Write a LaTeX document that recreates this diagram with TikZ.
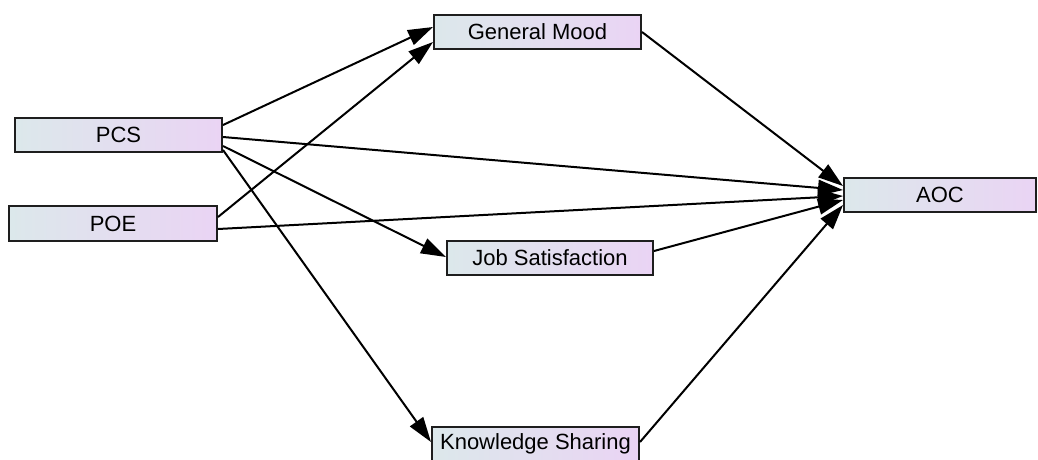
\documentclass[tikz,border=0pt]{standalone}
\usepackage{fontspec}
\setmainfont{Liberation Sans}
\usetikzlibrary{arrows.meta}
\definecolor{boxL}{RGB}{220,232,235}
\definecolor{boxR}{RGB}{234,212,244}
\definecolor{boxB}{RGB}{30,30,30}
\tikzset{
  varbox/.style={draw=boxB, line width=2pt, left color=boxL, right color=boxR,
    minimum height=34pt, inner sep=0pt, font=\fontsize{22}{25}\selectfont},
  path/.style={line width=2pt, -{Triangle[length=25pt,width=16pt]}}
}
\begin{document}
\begin{tikzpicture}[x=1pt,y=-1pt]
\useasboundingbox (0,0) rectangle (1038,459);
\node[varbox, minimum width=207pt] (PCS) at (118.5,135) {PCS};
\node[varbox, minimum width=208pt, minimum height=35pt] (POE) at (113,223.5) {POE};
\node[varbox, minimum width=207pt] (GM) at (537.5,32) {General Mood};
\node[varbox, minimum width=192pt] (AOC) at (940,195) {AOC};
\node[varbox, minimum width=206pt] (JS) at (550,258) {Job Satisfaction};
\node[varbox, minimum width=207pt] (KS) at (535.5,444) {Knowledge Sharing};

\draw[path] ([yshift=10pt]PCS.east) -- ([yshift=5pt]GM.west);
\draw[path] ([yshift=6.5pt]POE.east) -- ([yshift=-10pt]GM.west);
\draw[path] ([yshift=-2pt]PCS.east) -- ([yshift=5pt]AOC.west);
\draw[path] ([yshift=-5.5pt]POE.east) -- ([yshift=-1pt]AOC.west);
\draw[path] ([yshift=-11pt]PCS.east) -- ([yshift=1pt]JS.west);
\draw[path] ([yshift=-15pt]PCS.east) -- ([yshift=2pt]KS.west);
\draw[path] (GM.east) -- ([yshift=9pt]AOC.west);
\draw[path] ([yshift=7pt]JS.east) -- ([yshift=-5pt]AOC.west);
\draw[path] ([yshift=2pt]KS.east) -- ([yshift=-10pt]AOC.west);
\end{tikzpicture}
\end{document}
